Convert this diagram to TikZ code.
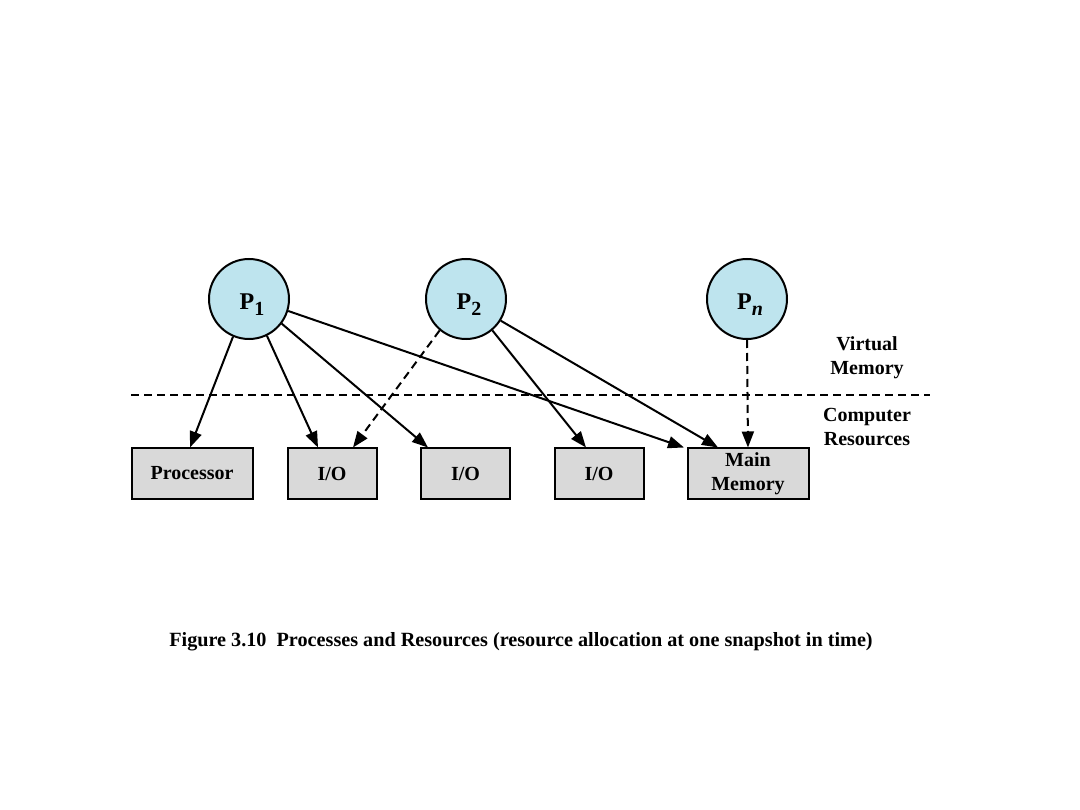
\documentclass[tikz,border=0pt]{standalone}
\usepackage{fontspec}
\setmainfont{Liberation Serif}
\usetikzlibrary{arrows.meta}
\definecolor{procblue}{RGB}{190,228,238}
\definecolor{boxgray}{RGB}{217,217,217}
\newcommand{\psub}[1]{\raisebox{-6pt}{\fontsize{20}{20}\selectfont #1}}
\begin{document}
\begin{tikzpicture}[x=1pt,y=-1pt,
  proc/.style={circle,draw,line width=2pt,fill=procblue,minimum size=80pt,inner sep=0pt,text height=22pt,text depth=0pt,font=\fontsize{24}{26}\selectfont\bfseries},
  res/.style={rectangle,draw,line width=2pt,fill=boxgray,minimum height=50pt,inner sep=0pt,align=center,font=\fontsize{20}{23.5}\selectfont\bfseries},
  lbl/.style={align=center,font=\fontsize{20}{24}\selectfont\bfseries},
  arr/.style={line width=2pt,-{Triangle[length=16pt,width=12pt]}},
  darr/.style={arr,dash pattern=on 8pt off 5pt}]
\useasboundingbox (0,0) rectangle (1080,810);
\node[proc] (p1) at (249,299) {\hspace*{6pt}P\psub{1}};
\node[proc] (p2) at (466,299) {\hspace*{6pt}P\psub{2}};
\node[proc] (pn) at (747,299) {\hspace*{6pt}P\psub{\textit{n}}};
\node[res,minimum width=121pt] (cpu) at (192,473.5) {Processor};
\node[res,minimum width=89pt] (io1) at (332,473.5) {I/O};
\node[res,minimum width=89pt] (io2) at (465.5,473.5) {I/O};
\node[res,minimum width=89pt] (io3) at (599,473.5) {I/O};
\node[res,minimum width=121pt] (mem) at (748,473.5) {Main\\Memory};
\coordinate (dl) at (131,395);
\coordinate (dr) at (930,395);
\draw[line width=1.8pt,dash pattern=on 8pt off 5pt] (dl) -- (dr);
\node[lbl] (vm) at (867,358) {Virtual\\Memory};
\node[lbl] (cr) at (867,427) {Computer\\Resources};
\draw[arr] (p1.247) -- ([xshift=-2pt]cpu.north);
\draw[arr] (p1.296.6) -- ([xshift=-14pt]io1.north);
\draw[arr] (p1.323.7) -- ([xshift=-37.5pt]io2.north);
\draw[arr] (p1.343.7) -- ([xshift=-64pt]mem.north);
\draw[darr] (p2.230.5) -- ([xshift=21pt]io1.north);
\draw[arr] (p2.310.2) -- ([xshift=-13pt]io3.north);
\draw[arr] (p2.328.6) -- ([xshift=-30pt]mem.north);
\draw[darr] (pn.south) -- (mem.north);
\node[font=\fontsize{20.2}{22}\selectfont\bfseries] (cap) at (521,642) {Figure 3.10\ \ Processes and Resources (resource allocation at one snapshot in time)};
\end{tikzpicture}
\end{document}
